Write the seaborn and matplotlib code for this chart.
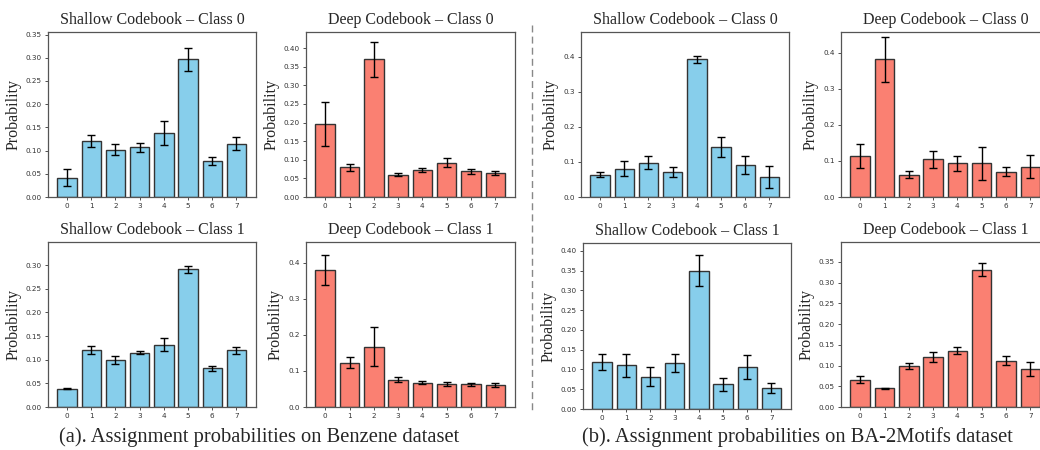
import matplotlib
matplotlib.use("Agg")
import matplotlib.pyplot as plt
from matplotlib.ticker import MultipleLocator
from matplotlib.lines import Line2D
import numpy as np
import pandas as pd
import seaborn as sns

sns.set_style("ticks")

codes = ["0", "1", "2", "3", "4", "5", "6", "7"]

# Benzene dataset
benz_shallow_c0 = [0.042, 0.121, 0.102, 0.107, 0.138, 0.297, 0.078, 0.115]
benz_shallow_c0_err = [0.018, 0.0125, 0.0125, 0.009, 0.026, 0.0245, 0.0085, 0.0135]
benz_deep_c0 = [0.197, 0.080, 0.370, 0.060, 0.072, 0.092, 0.069, 0.064]
benz_deep_c0_err = [0.059, 0.009, 0.047, 0.0035, 0.006, 0.012, 0.006, 0.005]
benz_shallow_c1 = [0.039, 0.121, 0.099, 0.115, 0.132, 0.291, 0.082, 0.120]
benz_shallow_c1_err = [0.0014, 0.009, 0.008, 0.0035, 0.014, 0.008, 0.005, 0.0078]
benz_deep_c1 = [0.381, 0.123, 0.167, 0.076, 0.067, 0.063, 0.063, 0.061]
benz_deep_c1_err = [0.041, 0.0145, 0.054, 0.007, 0.0045, 0.0055, 0.0045, 0.0045]

# BA-2Motifs dataset
ba_shallow_c0 = [0.064, 0.081, 0.098, 0.072, 0.392, 0.142, 0.091, 0.056]
ba_shallow_c0_err = [0.0075, 0.022, 0.019, 0.0145, 0.009, 0.028, 0.025, 0.031]
ba_deep_c0 = [0.114, 0.381, 0.062, 0.104, 0.093, 0.093, 0.070, 0.084]
ba_deep_c0_err = [0.0325, 0.062, 0.0105, 0.023, 0.020, 0.046, 0.0125, 0.031]
ba_shallow_c1 = [0.119, 0.110, 0.081, 0.116, 0.350, 0.062, 0.107, 0.053]
ba_shallow_c1_err = [0.0205, 0.029, 0.024, 0.0235, 0.040, 0.0153, 0.0306, 0.0123]
ba_deep_c1 = [0.066, 0.045, 0.0995, 0.121, 0.136, 0.3315, 0.112, 0.0915]
ba_deep_c1_err = [0.0084, 0.002, 0.0072, 0.012, 0.0077, 0.0157, 0.0104, 0.0177]

SHALLOW = "#87CEEB"
DEEP = "#FA8072"
SERIF = ["Liberation Serif", "DejaVu Serif"]

W, H = 1040, 450
fig = plt.figure(figsize=(W / 100, H / 100), dpi=100)


def px_axes(x0, y0, x1, y1):
    return fig.add_axes([x0 / W, 1 - y1 / H, (x1 - x0) / W, (y1 - y0) / H])


panels = [
    # (axes box in px, title, values, errors, color, ymax, tick step)
    ((48, 32, 256, 197), "Shallow Codebook – Class 0", benz_shallow_c0, benz_shallow_c0_err, SHALLOW, 0.3556, 0.05),
    ((306, 32, 515, 197), "Deep Codebook – Class 0", benz_deep_c0, benz_deep_c0_err, DEEP, 0.443, 0.05),
    ((581, 32, 789, 197), "Shallow Codebook – Class 0", ba_shallow_c0, ba_shallow_c0_err, SHALLOW, 0.470, 0.1),
    ((841, 32, 1050, 197), "Deep Codebook – Class 0", ba_deep_c0, ba_deep_c0_err, DEEP, 0.457, 0.1),
    ((48, 242, 256, 407), "Shallow Codebook – Class 1", benz_shallow_c1, benz_shallow_c1_err, SHALLOW, 0.349, 0.05),
    ((306, 242, 515, 407), "Deep Codebook – Class 1", benz_deep_c1, benz_deep_c1_err, DEEP, 0.458, 0.1),
    ((583, 243, 791, 409), "Shallow Codebook – Class 1", ba_shallow_c1, ba_shallow_c1_err, SHALLOW, 0.4195, 0.05),
    ((841, 242, 1050, 407), "Deep Codebook – Class 1", ba_deep_c1, ba_deep_c1_err, DEEP, 0.398, 0.05),
]

for box, title, vals, errs, color, ymax, step in panels:
    ax = px_axes(*box)
    df = pd.DataFrame({"code": codes, "prob": vals})
    sns.barplot(data=df, x="code", y="prob", color=color, saturation=1,
                edgecolor="#333333", linewidth=1.0, errorbar=None, width=0.8, ax=ax)
    ax.errorbar(np.arange(len(codes)), vals, yerr=errs, fmt="none",
                ecolor="black", elinewidth=1.0, capsize=2.8, capthick=1.0)
    ax.set_xlim(-0.79, 7.81)
    ax.set_ylim(0, ymax)
    ax.yaxis.set_major_locator(MultipleLocator(step))
    ax.set_xlabel("")
    ax.set_ylabel("Probability", fontsize=11.5, family=SERIF, labelpad=3)
    ax.set_title(title, fontsize=11.5, family=SERIF, pad=6)
    ax.tick_params(labelsize=5.2, length=2.5, width=0.6, pad=2, colors="#333333")
    for s in ax.spines.values():
        s.set_color("#555555")
        s.set_linewidth(0.9)
        s.set_visible(True)

# Dashed separator between the two datasets
fig.add_artist(Line2D([532 / W, 532 / W], [1 - 25 / H, 1 - 411 / H],
                      transform=fig.transFigure, color="#888888",
                      linestyle=(0, (5, 3)), linewidth=1.0))

fig.text(259 / W, 1 - 437 / H, "(a). Assignment probabilities on Benzene dataset",
         ha="center", va="center", fontsize=14.8, family=SERIF)
fig.text(797 / W, 1 - 437 / H, "(b). Assignment probabilities on BA-2Motifs dataset",
         ha="center", va="center", fontsize=14.8, family=SERIF)

fig.savefig("out.png", dpi=100)
